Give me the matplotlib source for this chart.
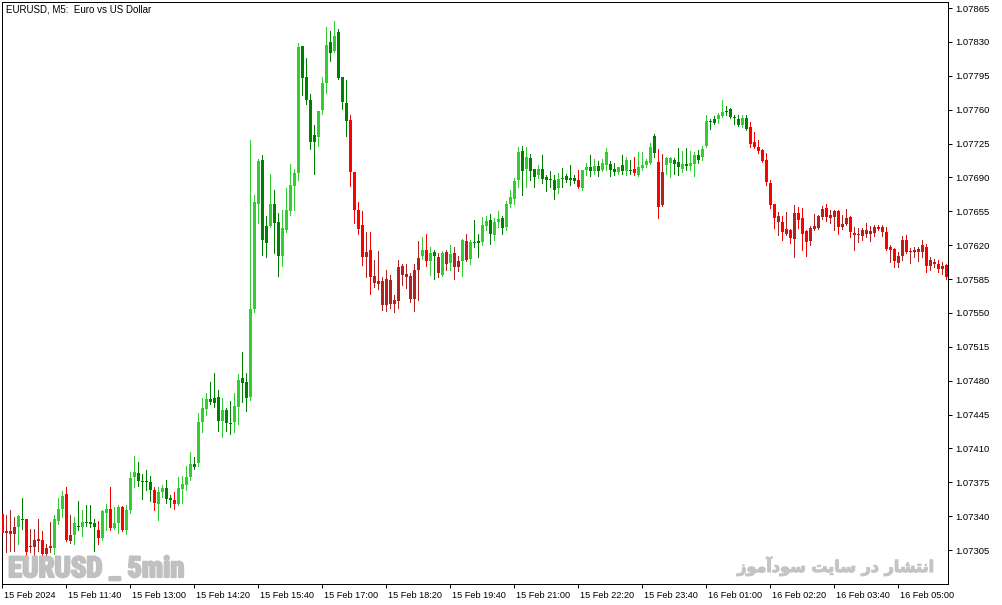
import numpy as np
import matplotlib
matplotlib.use('Agg')
from matplotlib import pyplot as plt
from matplotlib import patheffects
from matplotlib import font_manager
from matplotlib.transforms import ScaledTranslation

# EURUSD M5 candles, 15 Feb 2024 10:20 -> 16 Feb 2024 06:00
# prices in points (1 point = 0.00001)
opens = [
    107342, 107323, 107322, 107322, 107329, 107337, 107337, 107308, 107308, 107314,
    107315, 107301, 107307, 107307, 107335, 107347, 107363, 107314, 107320, 107330,
    107329, 107334, 107334, 107333, 107326, 107317, 107343, 107347, 107328, 107333,
    107349, 107326, 107346, 107380, 107385, 107376, 107376, 107375, 107367, 107353,
    107365, 107369, 107359, 107357, 107353, 107368, 107372, 107380, 107394, 107395,
    107437, 107451, 107461, 107462, 107463, 107438, 107450, 107436, 107437, 107453,
    107483, 107479, 107463, 107554, 107663, 107708, 107640, 107640, 107663, 107644,
    107609, 107636, 107655, 107681, 107695, 107826, 107794, 107770, 107734, 107732,
    107760, 107787, 107830, 107821, 107840, 107794, 107767, 107749, 107696, 107656,
    107641, 107608, 107615, 107581, 107580, 107558, 107558, 107559, 107559, 107562,
    107589, 107587, 107564, 107564, 107594, 107609, 107615, 107604, 107613, 107591,
    107589, 107601, 107602, 107597, 107597, 107604, 107605, 107606, 107623, 107624,
    107623, 107640, 107646, 107630, 107644, 107648, 107639, 107663, 107668, 107687,
    107717, 107699, 107710, 107699, 107692, 107699, 107690, 107687, 107687, 107679,
    107689, 107691, 107689, 107689, 107687, 107679, 107698, 107701, 107697, 107702,
    107698, 107703, 107704, 107699, 107696, 107703, 107697, 107698, 107699, 107692,
    107700, 107703, 107705, 107733, 107706, 107661, 107703, 107705, 107708, 107706,
    107699, 107704, 107702, 107704, 107713, 107711, 107722, 107748, 107750, 107750,
    107753, 107759, 107761, 107752, 107750, 107744, 107751, 107742, 107727, 107721,
    107718, 107708, 107684, 107662, 107644, 107644, 107631, 107636, 107626, 107653,
    107648, 107635, 107624, 107637, 107638, 107649, 107658, 107648, 107649, 107655,
    107639, 107642, 107649, 107630, 107630, 107629, 107631, 107631, 107633, 107639,
    107634, 107634, 107615, 107616, 107602, 107609, 107625, 107613, 107613, 107613,
    107613, 107618, 107598, 107600, 107600, 107595, 107599]
highs = [
    107344, 107341, 107346, 107339, 107341, 107359, 107337, 107327, 107327, 107337,
    107325, 107311, 107334, 107341, 107359, 107366, 107370, 107341, 107339, 107356,
    107346, 107352, 107351, 107337, 107335, 107346, 107353, 107370, 107349, 107351,
    107350, 107351, 107386, 107402, 107396, 107384, 107388, 107381, 107370, 107370,
    107372, 107377, 107362, 107365, 107380, 107381, 107392, 107406, 107401, 107447,
    107462, 107467, 107479, 107488, 107470, 107462, 107452, 107459, 107467, 107487,
    107510, 107488, 107729, 107672, 107709, 107713, 107650, 107694, 107677, 107653,
    107656, 107679, 107704, 107699, 107829, 107826, 107813, 107776, 107744, 107759,
    107794, 107845, 107841, 107852, 107843, 107794, 107791, 107754, 107696, 107665,
    107655, 107634, 107634, 107605, 107614, 107587, 107594, 107589, 107568, 107605,
    107600, 107600, 107591, 107600, 107624, 107628, 107631, 107618, 107615, 107612,
    107614, 107615, 107620, 107618, 107609, 107626, 107631, 107625, 107646, 107632,
    107649, 107650, 107652, 107648, 107655, 107650, 107666, 107677, 107689, 107721,
    107722, 107721, 107714, 107699, 107703, 107713, 107692, 107697, 107692, 107695,
    107700, 107694, 107703, 107692, 107698, 107698, 107705, 107713, 107709, 107707,
    107709, 107720, 107707, 107705, 107701, 107713, 107711, 107708, 107711, 107716,
    107716, 107709, 107726, 107735, 107719, 107714, 107711, 107711, 107710, 107720,
    107717, 107720, 107717, 107716, 107718, 107722, 107754, 107750, 107753, 107756,
    107770, 107764, 107762, 107754, 107754, 107754, 107754, 107747, 107737, 107729,
    107719, 107715, 107687, 107663, 107654, 107650, 107654, 107637, 107661, 107659,
    107658, 107636, 107640, 107652, 107651, 107660, 107662, 107656, 107656, 107656,
    107651, 107657, 107650, 107639, 107638, 107638, 107643, 107640, 107641, 107641,
    107641, 107639, 107620, 107617, 107613, 107629, 107630, 107617, 107618, 107618,
    107625, 107621, 107608, 107606, 107605, 107603, 107601]
lows = [
    107313, 107303, 107304, 107304, 107311, 107327, 107296, 107303, 107279, 107304,
    107296, 107298, 107303, 107301, 107332, 107339, 107314, 107312, 107311, 107326,
    107319, 107330, 107329, 107304, 107311, 107315, 107326, 107326, 107327, 107323,
    107325, 107322, 107343, 107370, 107371, 107358, 107367, 107356, 107346, 107336,
    107360, 107354, 107349, 107347, 107352, 107354, 107367, 107377, 107389, 107392,
    107427, 107444, 107456, 107453, 107428, 107422, 107428, 107425, 107427, 107435,
    107458, 107449, 107460, 107551, 107643, 107610, 107608, 107639, 107612, 107588,
    107598, 107634, 107651, 107656, 107687, 107775, 107766, 107719, 107694, 107722,
    107755, 107777, 107810, 107820, 107792, 107761, 107733, 107681, 107643, 107631,
    107599, 107587, 107569, 107577, 107575, 107553, 107552, 107555, 107551, 107555,
    107579, 107576, 107561, 107552, 107563, 107606, 107598, 107589, 107585, 107587,
    107588, 107594, 107594, 107585, 107593, 107588, 107604, 107601, 107618, 107608,
    107620, 107636, 107621, 107625, 107639, 107631, 107636, 107659, 107663, 107680,
    107672, 107680, 107687, 107680, 107689, 107684, 107676, 107680, 107668, 107674,
    107680, 107685, 107682, 107684, 107679, 107677, 107692, 107691, 107694, 107691,
    107697, 107698, 107691, 107692, 107693, 107694, 107692, 107694, 107692, 107691,
    107698, 107701, 107704, 107711, 107648, 107660, 107694, 107690, 107694, 107692,
    107696, 107698, 107698, 107691, 107705, 107708, 107721, 107740, 107745, 107746,
    107752, 107754, 107751, 107745, 107743, 107742, 107739, 107721, 107720, 107715,
    107706, 107682, 107658, 107638, 107630, 107625, 107630, 107622, 107608, 107638,
    107615, 107609, 107620, 107636, 107637, 107647, 107645, 107643, 107636, 107631,
    107637, 107641, 107628, 107615, 107623, 107625, 107628, 107624, 107629, 107636,
    107629, 107615, 107603, 107597, 107597, 107605, 107612, 107602, 107608, 107604,
    107608, 107592, 107594, 107597, 107592, 107590, 107585]
closes = [
    107323, 107325, 107325, 107329, 107340, 107336, 107303, 107309, 107315, 107316,
    107301, 107307, 107309, 107337, 107347, 107361, 107315, 107320, 107333, 107329,
    107334, 107333, 107332, 107329, 107317, 107345, 107347, 107328, 107333, 107349,
    107326, 107346, 107379, 107386, 107376, 107375, 107375, 107367, 107354, 107365,
    107369, 107358, 107357, 107353, 107369, 107373, 107380, 107394, 107391, 107437,
    107452, 107461, 107458, 107457, 107438, 107450, 107436, 107435, 107454, 107481,
    107478, 107462, 107554, 107665, 107707, 107625, 107622, 107663, 107643, 107609,
    107638, 107656, 107682, 107695, 107825, 107793, 107770, 107727, 107727, 107759,
    107787, 107827, 107819, 107836, 107793, 107768, 107748, 107696, 107656, 107637,
    107608, 107613, 107587, 107588, 107583, 107583, 107585, 107584, 107563, 107597,
    107598, 107590, 107588, 107594, 107607, 107615, 107604, 107612, 107609, 107608,
    107612, 107613, 107611, 107612, 107604, 107625, 107624, 107623, 107622, 107622,
    107641, 107645, 107631, 107644, 107647, 107638, 107662, 107670, 107686, 107716,
    107697, 107711, 107697, 107690, 107699, 107688, 107687, 107687, 107677, 107688,
    107688, 107687, 107687, 107686, 107680, 107698, 107701, 107697, 107702, 107697,
    107705, 107716, 107698, 107696, 107701, 107697, 107708, 107697, 107695, 107701,
    107703, 107707, 107721, 107715, 107659, 107696, 107710, 107710, 107704, 107701,
    107704, 107702, 107705, 107713, 107708, 107719, 107748, 107747, 107746, 107754,
    107758, 107758, 107752, 107751, 107744, 107751, 107740, 107725, 107721, 107717,
    107707, 107685, 107661, 107648, 107650, 107634, 107637, 107627, 107653, 107646,
    107631, 107623, 107638, 107640, 107650, 107657, 107649, 107651, 107655, 107639,
    107642, 107648, 107634, 107633, 107632, 107636, 107636, 107635, 107639, 107637,
    107639, 107616, 107618, 107604, 107609, 107625, 107613, 107614, 107615, 107616,
    107620, 107598, 107605, 107603, 107595, 107598, 107587]
# L/G = up / down candle in up trend, R/F = down / up candle in down trend
shades = ("RFFFLGRFFF" "RFFLLLRFLG" "LGGGRLLRLL" "RLLLGGGGRL" "LGGRLLLLGL"
          "LLGGGLGGLL" "GGLLLGGLGG" "LLLLLGGGGL" "LLGLGGGRRR" "RFRFFFFFFF"
          "FFFFFLRLGF" "LFLFFLFLGG" "LLGLLGLLLL" "GLGGLGGGGL" "GGGGRLLGLG"
          "LLGGLGLGRL" "LLLGRFLLGG" "LGLLGLLGGL" "LGGGGLGRRR" "RRRRFRFRFR"
          "RRFFFFRFFR" "FFRFFFFFFR" "FRFRFFRFFF" "FRFFRFR")

time_labels = ['15 Feb 2024', '15 Feb 11:40', '15 Feb 13:00', '15 Feb 14:20',
               '15 Feb 15:40', '15 Feb 17:00', '15 Feb 18:20', '15 Feb 19:40',
               '15 Feb 21:00', '15 Feb 22:20', '15 Feb 23:40', '16 Feb 01:00',
               '16 Feb 02:20', '16 Feb 03:40', '16 Feb 05:00']
bars_per_label = 16
price_ticks = [1.07305, 1.07340, 1.07375, 1.07410, 1.07445, 1.07480, 1.07515,
               1.07550, 1.07585, 1.07620, 1.07655, 1.07690, 1.07725, 1.07760,
               1.07795, 1.07830, 1.07865]

palette = {'L': '#32cd32', 'G': '#008000', 'R': '#ff0000', 'F': '#b22222'}

plt.rcParams['font.family'] = ['Liberation Sans', 'DejaVu Sans']

W, H = 1003, 605
fig = plt.figure(figsize=(W / 100, H / 100), dpi=100)
# plot frame in pixels: x 2..948, y 2..584
ax = fig.add_axes([2 / W, 1 - 584 / H, 946 / W, 582 / H])

o = np.array(opens) / 1e5
h = np.array(highs) / 1e5
l = np.array(lows) / 1e5
c = np.array(closes) / 1e5
x = np.arange(len(o))
cols = [palette[s] for s in shades]

px = 0.72  # one pixel in points
ax.vlines(x, l, h, colors=cols, linewidth=px, antialiased=False, zorder=2)
bottom = np.minimum(o, c)
height = np.maximum(np.abs(c - o), 1.0e-5)
ax.bar(x, height, 0.75, bottom, color=cols, linewidth=0, antialiased=False, zorder=3)

# candle i centred at pixel 2.3 + 4 i ; price 1.07865 at y=8, 1.07305 at y=550
ax.set_xlim(-0.075, (948 - 2.3) / 4)
k = (1.07865 - 1.07305) / 542
ax.set_ylim(1.07305 - (584 - 550) * k, 1.07865 + 6 * k)

for s in ax.spines.values():
    s.set_linewidth(px)
    s.set_color('black')

ax.yaxis.tick_right()
ax.set_yticks(price_ticks)
ax.set_yticklabels(['%.5f' % p for p in price_ticks])
ax.tick_params(axis='y', direction='out', length=3, width=px, pad=2, labelsize=6.8)

ax.set_xticks(np.arange(len(time_labels)) * bars_per_label)
ax.set_xticklabels(time_labels)
ax.tick_params(axis='x', direction='out', length=3.2, width=px, pad=1.5, labelsize=6.6)
shift = ScaledTranslation(1.5 / 100, 0, fig.dpi_scale_trans)
for lab in ax.get_xticklabels():
    lab.set_horizontalalignment('left')
    lab.set_transform(lab.get_transform() + shift)

fig.text(6 / W, 1 - 12.7 / H, 'EURUSD, M5:  Euro vs US Dollar', fontsize=7,
         ha='left', va='baseline')

# watermarks: pick the narrowest bold face installed for the latin one
names = {f.name for f in font_manager.fontManager.ttflist}
narrow = [f for f in ['Liberation Sans Narrow', 'Roboto Condensed', 'Open Sans Condensed',
                      'Noto Sans Display', 'Liberation Sans'] if f in names]
wm1 = fig.text(8 / W, 1 - 577 / H, 'EURUSD _ 5min', fontsize=20, fontweight='bold',
               fontstretch='condensed', family=narrow[:1] + ['DejaVu Sans'],
               color='#c0c0c0', ha='left', va='baseline',
               path_effects=[patheffects.withStroke(linewidth=1.6, foreground='#c0c0c0')])
fa = '\ufeaf\ufeee\ufee3\ufe81\ufea9\ufeee\ufeb3 \ufe96\ufef3\ufe8e\ufeb3 \ufead\ufea9 \ufead\ufe8e\ufeb8\ufe98\ufee7\ufe8d'
wm2 = fig.text(935 / W, 1 - 572 / H, fa, fontsize=14, fontweight='bold',
               family=['DejaVu Sans'], color='#c4c4c4', ha='right', va='baseline',
               path_effects=[patheffects.withStroke(linewidth=0.8, foreground='#c4c4c4')])

fig.canvas.draw()
r = fig.canvas.get_renderer()
for t, target in ((wm1, 176), (wm2, 198)):
    w = t.get_window_extent(r).width
    t.set_fontsize(t.get_fontsize() * target / w)

fig.savefig('out.png', dpi=100, facecolor='white')
